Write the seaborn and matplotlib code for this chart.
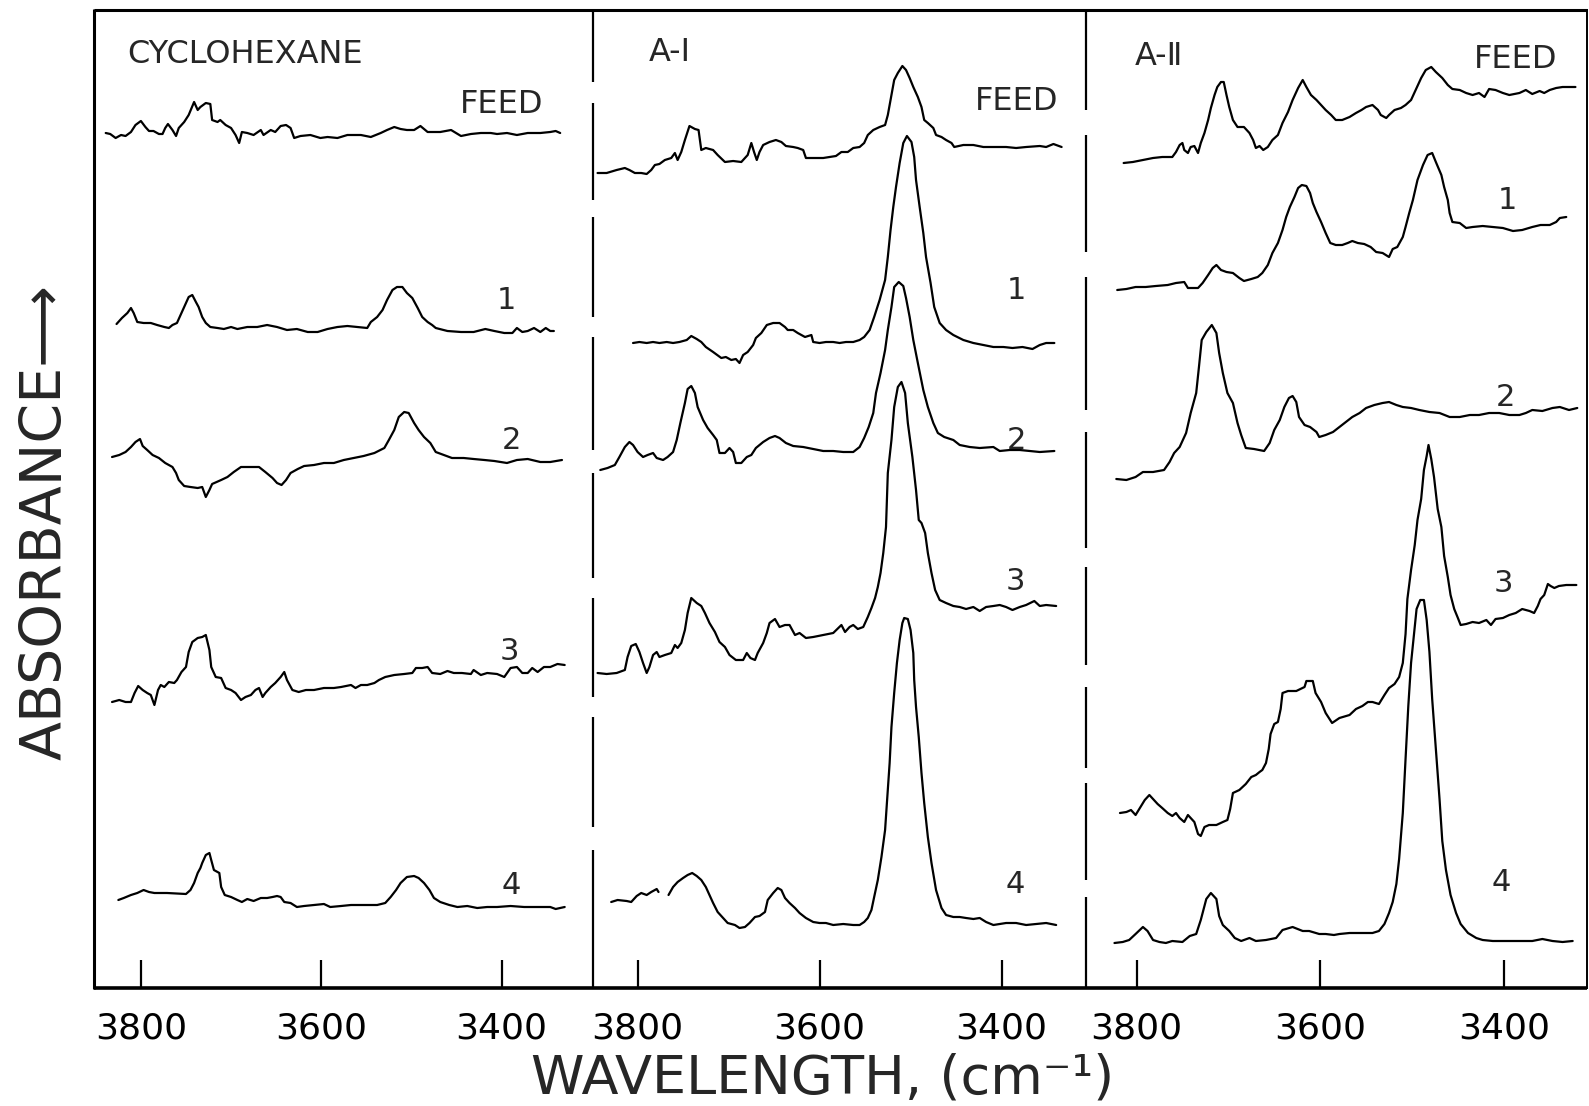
import numpy as np
import pandas as pd
import matplotlib
matplotlib.use("Agg")
import matplotlib.pyplot as plt
import seaborn as sns
from matplotlib.lines import Line2D

NAN = float("nan")

# ---------------- data (wavenumber cm-1, absorbance in arbitrary offset units) -------------
XTICKS = [3800, 3600, 3400]
PANEL_TITLES = ["CYCLOHEXANE", "A-\u2160", "A-\u2161"]
TRACE_LABELS = ["FEED", "1", "2", "3", "4"]

# --- Cyclohexane panel ---
CH_FEED_WN = [3839,3834,3828,3822,3817,3811,3806,3800,3795,3791,3786,3780,3776,3773,3770,3765,3761,3758,3752,3747,
              3741,3737,3734,3728,3723,3721,3715,3712,3706,3700,3695,3691,3688,3682,3675,3667,3664,3656,3651,3645,
              3639,3634,3630,3623,3612,3601,3593,3582,3571,3556,3545,3534,3527,3519,3512,3505,3497,3490,3482,3468,
              3456,3445,3434,3423,3412,3405,3394,3383,3371,3357,3346,3340,3335]
CH_FEED_A = [8.55,8.54,8.50,8.53,8.52,8.56,8.63,8.67,8.61,8.57,8.57,8.54,8.54,8.60,8.64,8.58,8.52,8.60,8.66,8.73,
             8.86,8.78,8.81,8.85,8.84,8.68,8.66,8.68,8.63,8.60,8.53,8.45,8.56,8.55,8.53,8.58,8.53,8.58,8.56,8.62,
             8.63,8.60,8.50,8.52,8.53,8.50,8.51,8.50,8.53,8.53,8.51,8.55,8.58,8.61,8.59,8.58,8.58,8.62,8.56,8.56,
             8.58,8.52,8.54,8.55,8.55,8.54,8.55,8.53,8.55,8.55,8.56,8.57,8.55]
CH_1_WN = [3827,3821,3815,3811,3808,3804,3797,3789,3782,3774,3769,3765,3760,3755,3750,3747,3743,3739,3736,3732,
           3728,3723,3715,3708,3700,3693,3682,3671,3660,3649,3638,3627,3615,3604,3593,3582,3571,3560,3549,3545,
           3538,3532,3527,3521,3516,3510,3505,3499,3493,3488,3482,3477,3473,3460,3445,3431,3418,3408,3397,3388,
           3383,3377,3371,3364,3357,3351,3346,3342]
CH_1_A = [6.64,6.70,6.75,6.80,6.75,6.66,6.65,6.65,6.63,6.61,6.60,6.63,6.65,6.75,6.85,6.91,6.93,6.86,6.81,6.71,
          6.65,6.61,6.60,6.59,6.61,6.59,6.61,6.61,6.63,6.61,6.58,6.59,6.56,6.56,6.59,6.61,6.62,6.61,6.60,6.66,
          6.71,6.78,6.88,6.98,7.01,7.01,6.95,6.90,6.80,6.71,6.66,6.63,6.60,6.57,6.56,6.56,6.59,6.57,6.55,6.55,
          6.60,6.56,6.57,6.60,6.56,6.60,6.57,6.57]
CH_2_WN = [3832,3824,3817,3811,3806,3801,3798,3793,3787,3780,3773,3765,3761,3758,3752,3745,3737,3732,3728,3724,
           3721,3711,3704,3697,3689,3678,3669,3662,3654,3649,3644,3639,3634,3626,3619,3608,3597,3586,3575,3564,
           3553,3541,3530,3525,3519,3514,3508,3503,3497,3492,3486,3479,3473,3464,3455,3442,3431,3419,3408,3394,
           3383,3371,3357,3346,3333]
CH_2_A = [5.31,5.33,5.36,5.41,5.46,5.49,5.42,5.38,5.33,5.30,5.25,5.21,5.15,5.08,5.02,5.01,5.00,5.01,4.91,4.98,
          5.04,5.08,5.11,5.16,5.21,5.21,5.21,5.16,5.10,5.05,5.03,5.08,5.15,5.19,5.22,5.23,5.25,5.25,5.28,5.30,
          5.32,5.35,5.40,5.48,5.58,5.71,5.76,5.75,5.65,5.58,5.51,5.45,5.36,5.33,5.30,5.30,5.29,5.28,5.27,5.25,
          5.28,5.29,5.26,5.26,5.28]
CH_3_WN = [3832,3824,3817,3811,3807,3803,3798,3793,3789,3785,3781,3778,3774,3769,3763,3760,3755,3750,3747,3743,
           3737,3732,3728,3724,3722,3717,3711,3706,3700,3695,3689,3684,3678,3673,3669,3665,3662,3656,3651,3645,
           3641,3638,3632,3625,3617,3608,3597,3586,3578,3567,3562,3556,3549,3541,3536,3529,3519,3508,3499,3495,
           3488,3482,3477,3468,3460,3453,3444,3434,3431,3423,3416,3405,3397,3390,3383,3377,3371,3366,3360,3353,
           3346,3338,3330]
CH_3_A = [2.86,2.88,2.86,2.86,2.95,3.02,2.98,2.95,2.93,2.83,2.98,3.03,3.01,3.06,3.05,3.08,3.16,3.21,3.36,3.46,
          3.50,3.51,3.53,3.38,3.21,3.11,3.10,3.00,2.98,2.95,2.88,2.91,2.93,2.98,3.00,2.91,2.95,3.01,3.05,3.11,
          3.16,3.08,2.98,2.96,2.98,2.98,3.00,3.00,3.01,3.03,3.00,3.03,3.03,3.05,3.08,3.11,3.13,3.14,3.15,3.20,
          3.20,3.21,3.15,3.14,3.17,3.15,3.15,3.14,3.18,3.13,3.15,3.14,3.11,3.20,3.21,3.15,3.15,3.20,3.16,3.21,
          3.21,3.24,3.23]
CH_4_WN = [3825,3819,3811,3804,3797,3791,3785,3771,3750,3745,3741,3737,3734,3732,3728,3724,3722,3719,3713,3711,
           3707,3700,3693,3688,3682,3675,3667,3660,3654,3649,3645,3641,3634,3627,3619,3608,3597,3590,3578,3567,
           3553,3538,3529,3523,3517,3512,3505,3497,3492,3486,3480,3475,3468,3458,3449,3438,3427,3416,3405,3390,
           3375,3360,3346,3340,3330]
CH_4_A = [0.88,0.90,0.93,0.95,0.98,0.96,0.95,0.95,0.94,0.98,1.05,1.15,1.20,1.25,1.33,1.35,1.28,1.18,1.15,1.01,
          0.93,0.91,0.88,0.86,0.89,0.87,0.90,0.90,0.91,0.92,0.91,0.86,0.85,0.81,0.82,0.83,0.84,0.81,0.82,0.83,
          0.83,0.83,0.85,0.91,0.98,1.05,1.11,1.12,1.10,1.05,0.98,0.90,0.86,0.83,0.81,0.82,0.80,0.81,0.81,0.82,
          0.81,0.81,0.81,0.79,0.81]

# --- A-I panel ---
AI_FEED_WN = [3844,3834,3823,3814,3809,3803,3796,3790,3785,3781,3776,3770,3763,3759,3756,3752,3748,3743,3737,3733,
              3730,3725,3717,3712,3704,3695,3686,3679,3675,3672,3669,3666,3662,3655,3648,3642,3637,3629,3624,3618,
              3615,3607,3596,3589,3582,3576,3569,3563,3556,3551,3547,3541,3534,3528,3525,3521,3518,3514,3509,3505,
              3501,3497,3492,3488,3485,3481,3475,3472,3466,3461,3455,3452,3442,3431,3420,3409,3395,3384,3373,3358,
              3351,3343,3334]
AI_FEED_A = [8.15,8.15,8.18,8.20,8.18,8.15,8.15,8.14,8.18,8.23,8.24,8.28,8.30,8.35,8.28,8.36,8.48,8.62,8.59,8.58,
             8.38,8.40,8.38,8.33,8.26,8.27,8.26,8.33,8.45,8.36,8.28,8.36,8.43,8.46,8.48,8.46,8.42,8.41,8.40,8.38,
             8.30,8.30,8.30,8.31,8.32,8.36,8.36,8.40,8.41,8.45,8.53,8.58,8.61,8.63,8.73,8.93,9.08,9.15,9.22,9.18,
             9.10,9.01,8.91,8.81,8.68,8.65,8.60,8.53,8.51,8.48,8.45,8.41,8.43,8.43,8.41,8.41,8.41,8.40,8.41,8.42,
             8.41,8.44,8.41]
AI_1_WN = [3805,3798,3790,3783,3776,3768,3761,3754,3746,3741,3735,3730,3725,3717,3708,3703,3697,3692,3688,3684,
           3679,3673,3670,3664,3658,3651,3644,3638,3635,3629,3624,3616,3609,3607,3600,3593,3585,3578,3571,3563,
           3556,3551,3545,3540,3534,3528,3525,3522,3519,3516,3512,3508,3504,3499,3496,3494,3490,3486,3483,3478,
           3474,3468,3461,3453,3442,3431,3420,3409,3398,3388,3377,3366,3358,3351,3342]
AI_1_A = [6.45,6.46,6.45,6.46,6.45,6.46,6.45,6.46,6.48,6.52,6.49,6.46,6.41,6.36,6.30,6.31,6.28,6.29,6.25,6.33,
          6.36,6.43,6.50,6.55,6.63,6.65,6.65,6.61,6.58,6.58,6.55,6.51,6.53,6.46,6.45,6.46,6.46,6.45,6.46,6.46,
          6.48,6.51,6.58,6.71,6.88,7.08,7.31,7.58,7.81,8.01,8.25,8.45,8.52,8.46,8.31,8.08,7.81,7.55,7.31,7.05,
          6.81,6.65,6.58,6.53,6.48,6.45,6.43,6.41,6.41,6.40,6.41,6.39,6.43,6.45,6.45]
AI_2_WN = [3841,3833,3825,3820,3814,3809,3805,3800,3794,3789,3783,3779,3772,3767,3761,3757,3753,3748,3745,3741,
           3737,3734,3728,3723,3717,3713,3710,3704,3699,3695,3692,3686,3680,3675,3670,3662,3655,3649,3644,3637,
           3629,3618,3607,3596,3585,3574,3563,3556,3551,3546,3541,3538,3533,3528,3525,3521,3518,3513,3508,3505,
           3501,3497,3492,3486,3481,3475,3470,3463,3453,3446,3435,3424,3409,3402,3391,3380,3369,3358,3342]
AI_2_A = [5.18,5.20,5.23,5.31,5.41,5.46,5.43,5.36,5.31,5.33,5.35,5.30,5.28,5.31,5.36,5.48,5.65,5.85,5.99,6.02,
          5.95,5.81,5.68,5.60,5.53,5.48,5.35,5.35,5.40,5.36,5.25,5.25,5.31,5.33,5.40,5.46,5.50,5.52,5.50,5.45,
          5.42,5.41,5.39,5.37,5.37,5.36,5.36,5.41,5.50,5.61,5.75,5.95,6.15,6.38,6.58,6.81,7.01,7.06,7.02,6.90,
          6.71,6.48,6.25,5.98,5.81,5.65,5.55,5.51,5.48,5.43,5.41,5.40,5.41,5.37,5.38,5.38,5.37,5.36,5.37]
AI_3_WN = [3844,3834,3823,3814,3811,3807,3802,3798,3794,3790,3787,3783,3779,3776,3770,3763,3759,3756,3752,3748,
           3745,3741,3735,3730,3726,3721,3715,3710,3704,3699,3692,3684,3680,3676,3671,3668,3662,3658,3655,3649,
           3644,3638,3633,3627,3622,3615,3607,3596,3585,3576,3572,3567,3563,3558,3552,3547,3543,3539,3536,3533,
           3530,3527,3525,3521,3518,3514,3510,3506,3503,3498,3494,3491,3488,3484,3481,3477,3473,3468,3461,3453,
           3446,3439,3431,3424,3417,3409,3402,3395,3388,3380,3373,3364,3358,3351,3340]
AI_3_A = [3.15,3.14,3.15,3.18,3.31,3.42,3.44,3.36,3.25,3.15,3.21,3.33,3.36,3.31,3.33,3.35,3.43,3.40,3.45,3.58,
          3.75,3.90,3.85,3.82,3.75,3.65,3.56,3.46,3.41,3.33,3.28,3.28,3.35,3.30,3.28,3.35,3.45,3.55,3.65,3.69,
          3.61,3.63,3.63,3.53,3.55,3.50,3.51,3.53,3.55,3.63,3.56,3.61,3.63,3.59,3.61,3.71,3.80,3.90,4.01,4.15,
          4.35,4.61,5.15,5.48,5.81,6.01,6.06,5.95,5.65,5.31,4.98,4.68,4.65,4.55,4.35,4.15,3.98,3.88,3.85,3.82,
          3.81,3.79,3.81,3.77,3.81,3.82,3.83,3.81,3.78,3.81,3.83,3.87,3.82,3.83,3.82]
AI_4_WN = [3829,3822,3812,3807,3801,3796,3790,3785,3779,3777,3772,
           3766,3761,3756,3750,3745,3740,3735,3730,3725,3721,3717,3712,3706,3701,3693,3688,3682,3677,3671,3666,
           3660,3657,3651,3646,3642,3638,3633,3627,3622,3615,3607,3600,3593,3585,3574,3563,3556,3551,3547,3543,
           3540,3536,3532,3528,3526,3523,3521,3518,3515,3512,3509,3507,3503,3500,3497,3496,3494,3491,3488,3485,
           3481,3477,3472,3466,3461,3453,3446,3439,3431,3424,3417,3409,3402,3395,3384,3373,3362,3351,3340]
AI_4_A = [0.86,0.88,0.87,0.86,0.92,0.95,0.93,0.96,0.99,0.96,NAN,
          0.93,1.01,1.06,1.10,1.13,1.15,1.12,1.08,1.01,0.93,0.85,0.76,0.70,0.65,0.63,0.60,0.61,0.65,0.71,0.72,
          0.76,0.88,0.95,1.00,0.98,0.90,0.85,0.80,0.75,0.70,0.66,0.65,0.65,0.63,0.64,0.63,0.63,0.66,0.70,0.78,
          0.91,1.08,1.31,1.58,1.85,2.25,2.61,2.95,3.25,3.48,3.65,3.70,3.69,3.58,3.35,3.08,2.81,2.51,2.15,1.85,
          1.51,1.25,0.98,0.80,0.73,0.71,0.71,0.70,0.69,0.70,0.66,0.63,0.64,0.65,0.65,0.63,0.64,0.65,0.63]

# --- A-II panel ---
AII_FEED_WN = [3814,3804,3793,3782,3772,3761,3757,3753,3750,3748,3744,3741,3737,3733,3730,3726,3722,3719,3715,3712,
               3708,3705,3702,3699,3695,3690,3683,3677,3673,3670,3666,3662,3657,3652,3646,3641,3635,3630,3624,3619,
               3615,3610,3604,3599,3594,3588,3583,3576,3568,3561,3555,3550,3543,3537,3534,3528,3525,3519,3512,3507,
               3501,3496,3490,3485,3479,3474,3467,3461,3456,3448,3441,3434,3427,3421,3416,3409,3401,3394,3383,3376,
               3369,3361,3356,3350,3343,3336,3329,3322]
AII_FEED_A = [8.25,8.26,8.28,8.30,8.31,8.31,8.36,8.43,8.45,8.38,8.35,8.41,8.42,8.35,8.45,8.55,8.68,8.80,8.93,9.01,
              9.06,9.06,8.93,8.81,8.68,8.61,8.61,8.55,8.48,8.40,8.42,8.38,8.41,8.48,8.53,8.65,8.76,8.88,9.00,9.08,
              9.01,8.93,8.88,8.83,8.78,8.73,8.68,8.68,8.71,8.75,8.78,8.81,8.83,8.78,8.73,8.70,8.73,8.78,8.80,8.83,
              8.88,8.98,9.10,9.18,9.21,9.16,9.10,9.03,8.99,8.98,8.95,8.93,8.95,8.91,8.99,8.98,8.95,8.93,8.95,8.98,
              8.94,8.97,8.95,8.98,9.00,9.01,9.01,9.01]
AII_1_WN = [3821,3811,3801,3790,3779,3766,3757,3748,3744,3733,3728,3722,3717,3713,3708,3702,3695,3688,3683,3675,
            3668,3663,3657,3652,3646,3641,3637,3633,3628,3624,3620,3615,3611,3608,3604,3599,3594,3589,3583,3576,
            3570,3565,3559,3552,3545,3539,3532,3525,3521,3516,3510,3507,3503,3499,3494,3488,3483,3478,3474,3468,
            3465,3461,3459,3456,3448,3441,3434,3423,3412,3401,3390,3380,3369,3360,3350,3343,3339,3332]
AII_1_A = [6.98,6.99,7.01,7.01,7.02,7.03,7.05,7.06,7.00,7.00,7.05,7.13,7.20,7.23,7.18,7.16,7.15,7.10,7.07,7.09,
           7.11,7.15,7.23,7.35,7.45,7.58,7.71,7.81,7.91,8.00,8.03,8.02,7.95,7.85,7.76,7.66,7.55,7.45,7.43,7.43,
           7.45,7.47,7.45,7.44,7.41,7.36,7.35,7.31,7.39,7.41,7.51,7.61,7.75,7.88,8.08,8.23,8.33,8.35,8.26,8.13,
           8.01,7.88,7.75,7.66,7.65,7.60,7.61,7.62,7.61,7.60,7.57,7.58,7.61,7.63,7.63,7.66,7.70,7.71]
AII_2_WN = [3822,3811,3801,3793,3782,3770,3764,3759,3753,3746,3741,3735,3732,3729,3724,3718,3713,3710,3706,3701,
            3695,3690,3686,3681,3672,3661,3655,3650,3644,3639,3634,3630,3626,3623,3617,3611,3604,3601,3594,3586,
            3579,3572,3565,3557,3550,3541,3532,3525,3517,3510,3501,3492,3481,3470,3459,3448,3437,3427,3416,3405,
            3394,3383,3376,3369,3358,3347,3339,3329,3320]
AII_2_A = [5.09,5.08,5.11,5.16,5.16,5.18,5.26,5.35,5.41,5.55,5.75,5.95,6.21,6.48,6.56,6.63,6.55,6.35,6.15,5.95,
           5.85,5.65,5.53,5.40,5.39,5.37,5.45,5.58,5.68,5.81,5.90,5.92,5.86,5.71,5.63,5.61,5.56,5.51,5.53,5.56,
           5.61,5.66,5.71,5.75,5.80,5.83,5.85,5.86,5.83,5.81,5.80,5.78,5.76,5.75,5.71,5.71,5.73,5.73,5.75,5.75,
           5.73,5.73,5.75,5.78,5.77,5.80,5.81,5.78,5.80]
AII_3_WN = [3818,3811,3806,3801,3797,3791,3786,3782,3777,3772,3766,3761,3757,3753,3748,3744,3741,3737,3733,3730,
            3726,3721,3713,3706,3701,3698,3695,3688,3681,3675,3670,3666,3663,3659,3656,3654,3650,3646,3643,3641,
            3635,3626,3617,3615,3608,3605,3599,3594,3587,3579,3568,3561,3554,3548,3543,3536,3530,3525,3519,3514,
            3510,3507,3505,3501,3497,3494,3490,3487,3484,3482,3479,3476,3472,3468,3465,3461,3458,3454,3450,3447,
            3441,3434,3427,3419,3414,3409,3401,3394,3387,3380,3372,3367,3363,3360,3356,3352,3349,3345,3340,3332,
            3321]
AII_3_A = [1.75,1.76,1.78,1.73,1.79,1.88,1.93,1.89,1.84,1.80,1.75,1.72,1.75,1.70,1.66,1.73,1.70,1.66,1.54,1.52,
           1.61,1.63,1.63,1.66,1.68,1.79,1.95,1.98,2.04,2.11,2.13,2.16,2.18,2.25,2.39,2.54,2.64,2.66,2.79,2.95,
           2.97,2.97,3.01,3.07,3.07,2.95,2.86,2.75,2.65,2.70,2.73,2.79,2.82,2.86,2.86,2.84,2.93,3.00,3.04,3.11,
           3.25,3.54,3.89,4.18,4.43,4.68,4.89,5.18,5.32,5.43,5.29,5.11,4.79,4.61,4.32,4.11,3.93,3.79,3.70,3.63,
           3.64,3.66,3.65,3.68,3.63,3.69,3.70,3.73,3.75,3.79,3.77,3.75,3.82,3.89,3.93,4.04,4.02,4.00,4.02,4.03,
           4.03]
AII_4_WN = [3824,3815,3808,3801,3793,3788,3782,3775,3768,3761,3750,3742,3735,3730,3724,3719,3713,3710,3706,3699,
            3693,3686,3677,3670,3659,3648,3641,3630,3619,3612,3601,3594,3585,3579,3568,3554,3543,3536,3530,3525,
            3521,3517,3514,3510,3507,3504,3501,3497,3495,3491,3487,3484,3481,3478,3474,3470,3467,3463,3458,3452,
            3447,3439,3430,3423,3412,3398,3383,3369,3358,3347,3336,3325]
AII_4_A = [0.45,0.46,0.48,0.54,0.61,0.57,0.48,0.46,0.45,0.47,0.46,0.52,0.54,0.68,0.89,0.95,0.89,0.72,0.63,0.57,
           0.50,0.47,0.50,0.47,0.48,0.50,0.58,0.61,0.57,0.57,0.54,0.54,0.53,0.54,0.55,0.55,0.55,0.57,0.64,0.75,
           0.86,1.04,1.29,1.75,2.29,2.82,3.25,3.61,3.79,3.88,3.88,3.68,3.36,2.89,2.39,1.89,1.47,1.18,0.93,0.75,
           0.64,0.55,0.50,0.48,0.47,0.47,0.47,0.47,0.49,0.47,0.46,0.47]

PANELS = [
    [(CH_FEED_WN, CH_FEED_A), (CH_1_WN, CH_1_A), (CH_2_WN, CH_2_A), (CH_3_WN, CH_3_A), (CH_4_WN, CH_4_A)],
    [(AI_FEED_WN, AI_FEED_A), (AI_1_WN, AI_1_A), (AI_2_WN, AI_2_A), (AI_3_WN, AI_3_A), (AI_4_WN, AI_4_A)],
    [(AII_FEED_WN, AII_FEED_A), (AII_1_WN, AII_1_A), (AII_2_WN, AII_2_A), (AII_3_WN, AII_3_A), (AII_4_WN, AII_4_A)],
]
XLIMS = [(3852, 3298.6), (3849, 3307.2), (3855, 3309.4)]

# ---------------- styling / layout ----------------
sns.set_theme(style="white")
plt.rcParams['font.family'] = ['DejaVu Sans']
plt.rcParams['lines.scale_dashes'] = False

W, H = 1589, 1106
fig = plt.figure(figsize=(W / 100, H / 100), dpi=100)
fig.patch.set_facecolor('white')

def fx(px):
    return px / W

def fy(py):
    return 1 - py / H

TOP, BOT = 10, 988
PANEL_PX = [(94, 593), (593, 1086), (1086, 1587)]

for p, ((x0, x1), xl, traces) in enumerate(zip(PANEL_PX, XLIMS, PANELS)):
    ax = fig.add_axes([fx(x0), fy(BOT), (x1 - x0) / W, (BOT - TOP) / H])
    ax.set_facecolor('none')
    rows = []
    for t, (wn, ab) in enumerate(traces):
        seg = 0
        for w, a in zip(wn, ab):
            if np.isnan(a):
                seg += 1
                continue
            rows.append((w, a, f"{TRACE_LABELS[t]}-{seg}"))
    df = pd.DataFrame(rows, columns=["wavenumber", "absorbance", "trace"])
    sns.lineplot(data=df, x="wavenumber", y="absorbance", units="trace", estimator=None,
                 sort=False, color="black", linewidth=1.6, ax=ax, legend=False)
    ax.set_xlim(*xl)
    ax.set_ylim(0, 9.78)
    ax.set_xlabel("")
    ax.set_ylabel("")
    ax.set_yticks([])
    ax.set_xticks(XTICKS)
    ax.set_xticklabels([str(v) for v in XTICKS])
    ax.tick_params(axis='x', bottom=True, labelbottom=True, direction='in', length=20,
                   width=1.6, labelsize=26, pad=17, colors='black')
    for s in ax.spines.values():
        s.set_visible(False)

def fig_line(xs, ys, lw, ls='-'):
    ln = Line2D([fx(v) for v in xs], [fy(v) for v in ys], transform=fig.transFigure,
                color='black', lw=lw, linestyle=ls, solid_capstyle='butt', dash_capstyle='butt')
    fig.add_artist(ln)

fig_line([94, 1587], [TOP, TOP], 2.2)
fig_line([94, 94], [TOP - 1, BOT + 1], 2.2)
fig_line([1587, 1587], [TOP - 1, BOT + 1], 1.4)
fig_line([94, 1587], [BOT, BOT], 2.6)

SEP1_DASH_PX = [72, 21, 97, 17, 100, 20, 113, 23, 105, 20, 99, 20, 110, 23, 160, 10]
SEP2_DASH_PX = [100, 25, 117, 25, 133, 22, 116, 19, 98, 22, 81, 15, 97, 17, 110, 10]
fig_line([593, 593], [TOP, BOT], 1.6, (0, [v * 0.72 for v in SEP1_DASH_PX]))
fig_line([1086, 1086], [TOP, BOT], 1.6, (0, [v * 0.72 for v in SEP2_DASH_PX]))

# ---------------- text ----------------
TITLE_SIZE = 23
NUM_SIZE = 22

def label(x, ycenter, s, size, ha='left'):
    cap_half = 0.73 * size * 100 / 72 / 2
    fig.text(fx(x), fy(ycenter + cap_half), s, fontsize=size, ha=ha, va='baseline')

label(127, 51, PANEL_TITLES[0], TITLE_SIZE)
label(649, 49, PANEL_TITLES[1], TITLE_SIZE)
label(1135, 53, PANEL_TITLES[2], TITLE_SIZE)
label(460, 101, TRACE_LABELS[0], TITLE_SIZE)
label(975, 98, TRACE_LABELS[0], TITLE_SIZE)
label(1474, 56, TRACE_LABELS[0], TITLE_SIZE)

NUM_POS = [
    [(506, 298), (511, 438), (509, 649), (511, 883)],
    [(1016, 288), (1016, 438), (1015, 579), (1015, 882)],
    [(1507, 198), (1505, 395), (1503, 581), (1501, 880)],
]
for pos in NUM_POS:
    for k, (x, y) in enumerate(pos):
        label(x, y, TRACE_LABELS[k + 1], NUM_SIZE, ha='center')

fig.text(fx(46), fy(522), "ABSORBANCE\u27f6", rotation=90, fontsize=41,
         ha='center', va='center')
fig.text(fx(823), fy(1094), "WAVELENGTH, (cm\u207b\u00b9)", fontsize=39,
         ha='center', va='baseline')

fig.savefig("out.png", dpi=100, facecolor='white')
